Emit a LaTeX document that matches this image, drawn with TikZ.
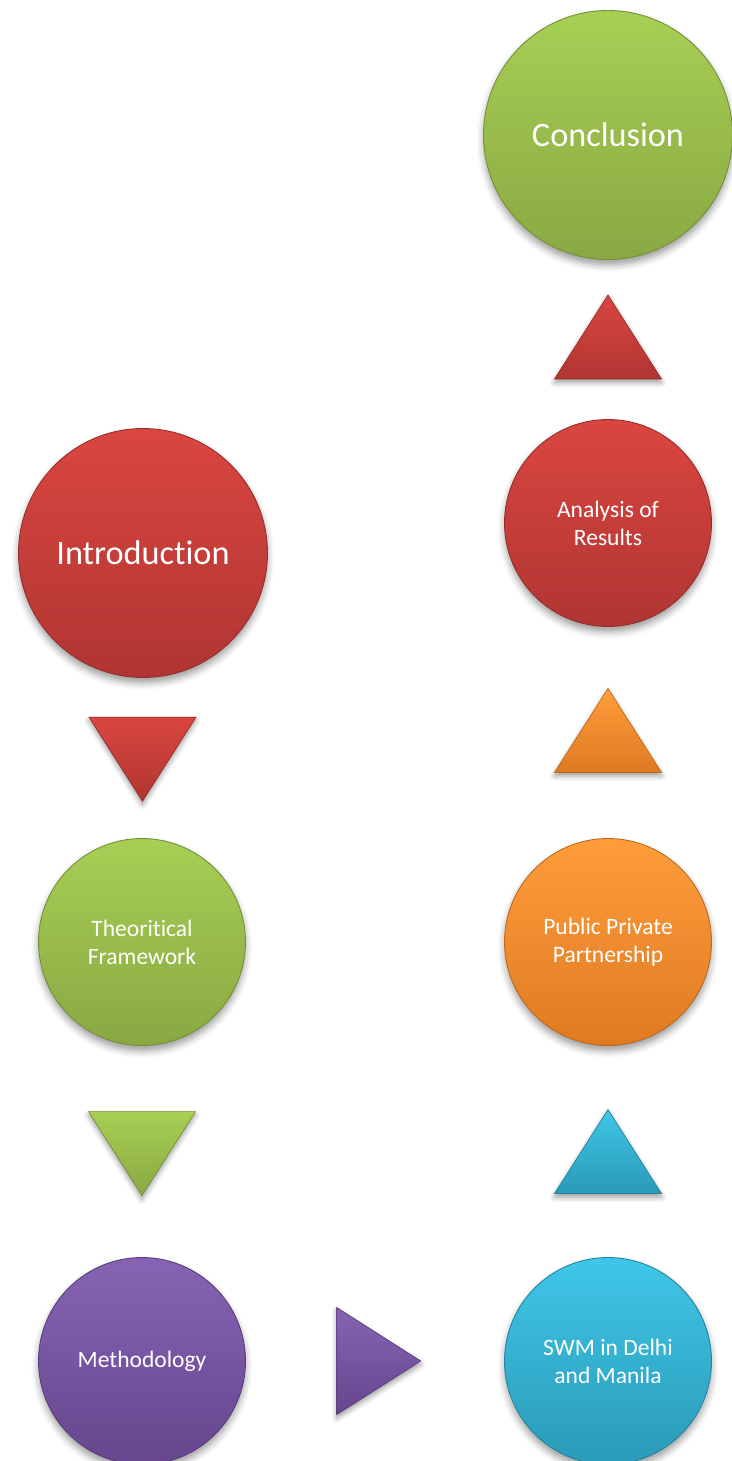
\documentclass[tikz,border=0pt]{standalone}
\usepackage{fontspec}
\setmainfont[Ligatures={CommonOff,ContextualOff,RareOff}]{Carlito}
\usetikzlibrary{calc,shadows.blur}

% top and bottom tones of each stage colour
\definecolor{redtop}{HTML}{DA4640}
\definecolor{redbot}{HTML}{B03532}
\definecolor{grntop}{HTML}{A7CF54}
\definecolor{grnbot}{HTML}{89A843}
\definecolor{orgtop}{HTML}{FF9D3B}
\definecolor{orgbot}{HTML}{DF7A22}
\definecolor{blutop}{HTML}{3FC6E8}
\definecolor{blubot}{HTML}{2A9AB7}
\definecolor{purtop}{HTML}{8664B3}
\definecolor{purbot}{HTML}{66468E}

\begin{document}
\begin{tikzpicture}[x=0.02cm,y=-0.02cm,
    stage/.style={circle, inner sep=0pt, align=center, text=white,
        top color=#1top, bottom color=#1bot, draw=#1bot!85!black, line width=0.5pt,
        blur shadow={shadow xshift=0pt, shadow yshift=-3pt, shadow blur radius=4pt}},
    big/.style={minimum size=4.98cm, font=\fontsize{19.5}{23}\selectfont},
    small/.style={minimum size=4.14cm, font=\fontsize{13.4}{16}\selectfont},
    tri/.style={top color=#1top, bottom color=#1bot, draw=#1bot!85!black, line width=0.4pt,
        blur shadow={shadow xshift=0pt, shadow yshift=-2pt, shadow blur radius=3pt}}]

    \useasboundingbox (0,0) rectangle (731,1461);

    % left column
    \node[stage=red, big] (intro) at (143,553) {Introduction};
    \node[stage=grn, small] (theory) at (142,942) {Theoritical\\Framework};
    \node[stage=pur, small] (method) at (142,1361) {Methodology};

    % right column
    \node[stage=blu, small] (swm) at (608,1361) {SWM in Delhi\\and Manila};
    \node[stage=org, small] (ppp) at (608,942) {Public Private\\Partnership};
    \node[stage=red, small] (results) at (608,523) {Analysis of\\Results};
    \node[stage=grn, big] (concl) at (608,135) {Conclusion};

    % arrow triangles between the stages
    \coordinate (dn1) at ($(intro)!0.53!(theory)$);
    \coordinate (dn2) at ($(theory)!0.505!(method)$);
    \coordinate (rt1) at ($(method)!0.508!(swm)$);
    \coordinate (up1) at ($(swm)!0.5!(ppp)$);
    \coordinate (up2) at ($(ppp)!0.505!(results)$);
    \coordinate (up3) at (608,337);

    \foreach \c/\clr in {dn1/red, dn2/grn}
        \path[tri=\clr] ($(\c)+(-53.5,-42)$) -- ($(\c)+(53.5,-42)$) -- ($(\c)+(0,42)$) -- cycle;
    \foreach \c/\clr in {up1/blu, up2/org, up3/red}
        \path[tri=\clr] ($(\c)+(0,-42)$) -- ($(\c)+(53.5,42)$) -- ($(\c)+(-53.5,42)$) -- cycle;
    \path[tri=pur] ($(rt1)+(-42,-53.5)$) -- ($(rt1)+(42,0)$) -- ($(rt1)+(-42,53.5)$) -- cycle;
\end{tikzpicture}
\end{document}
